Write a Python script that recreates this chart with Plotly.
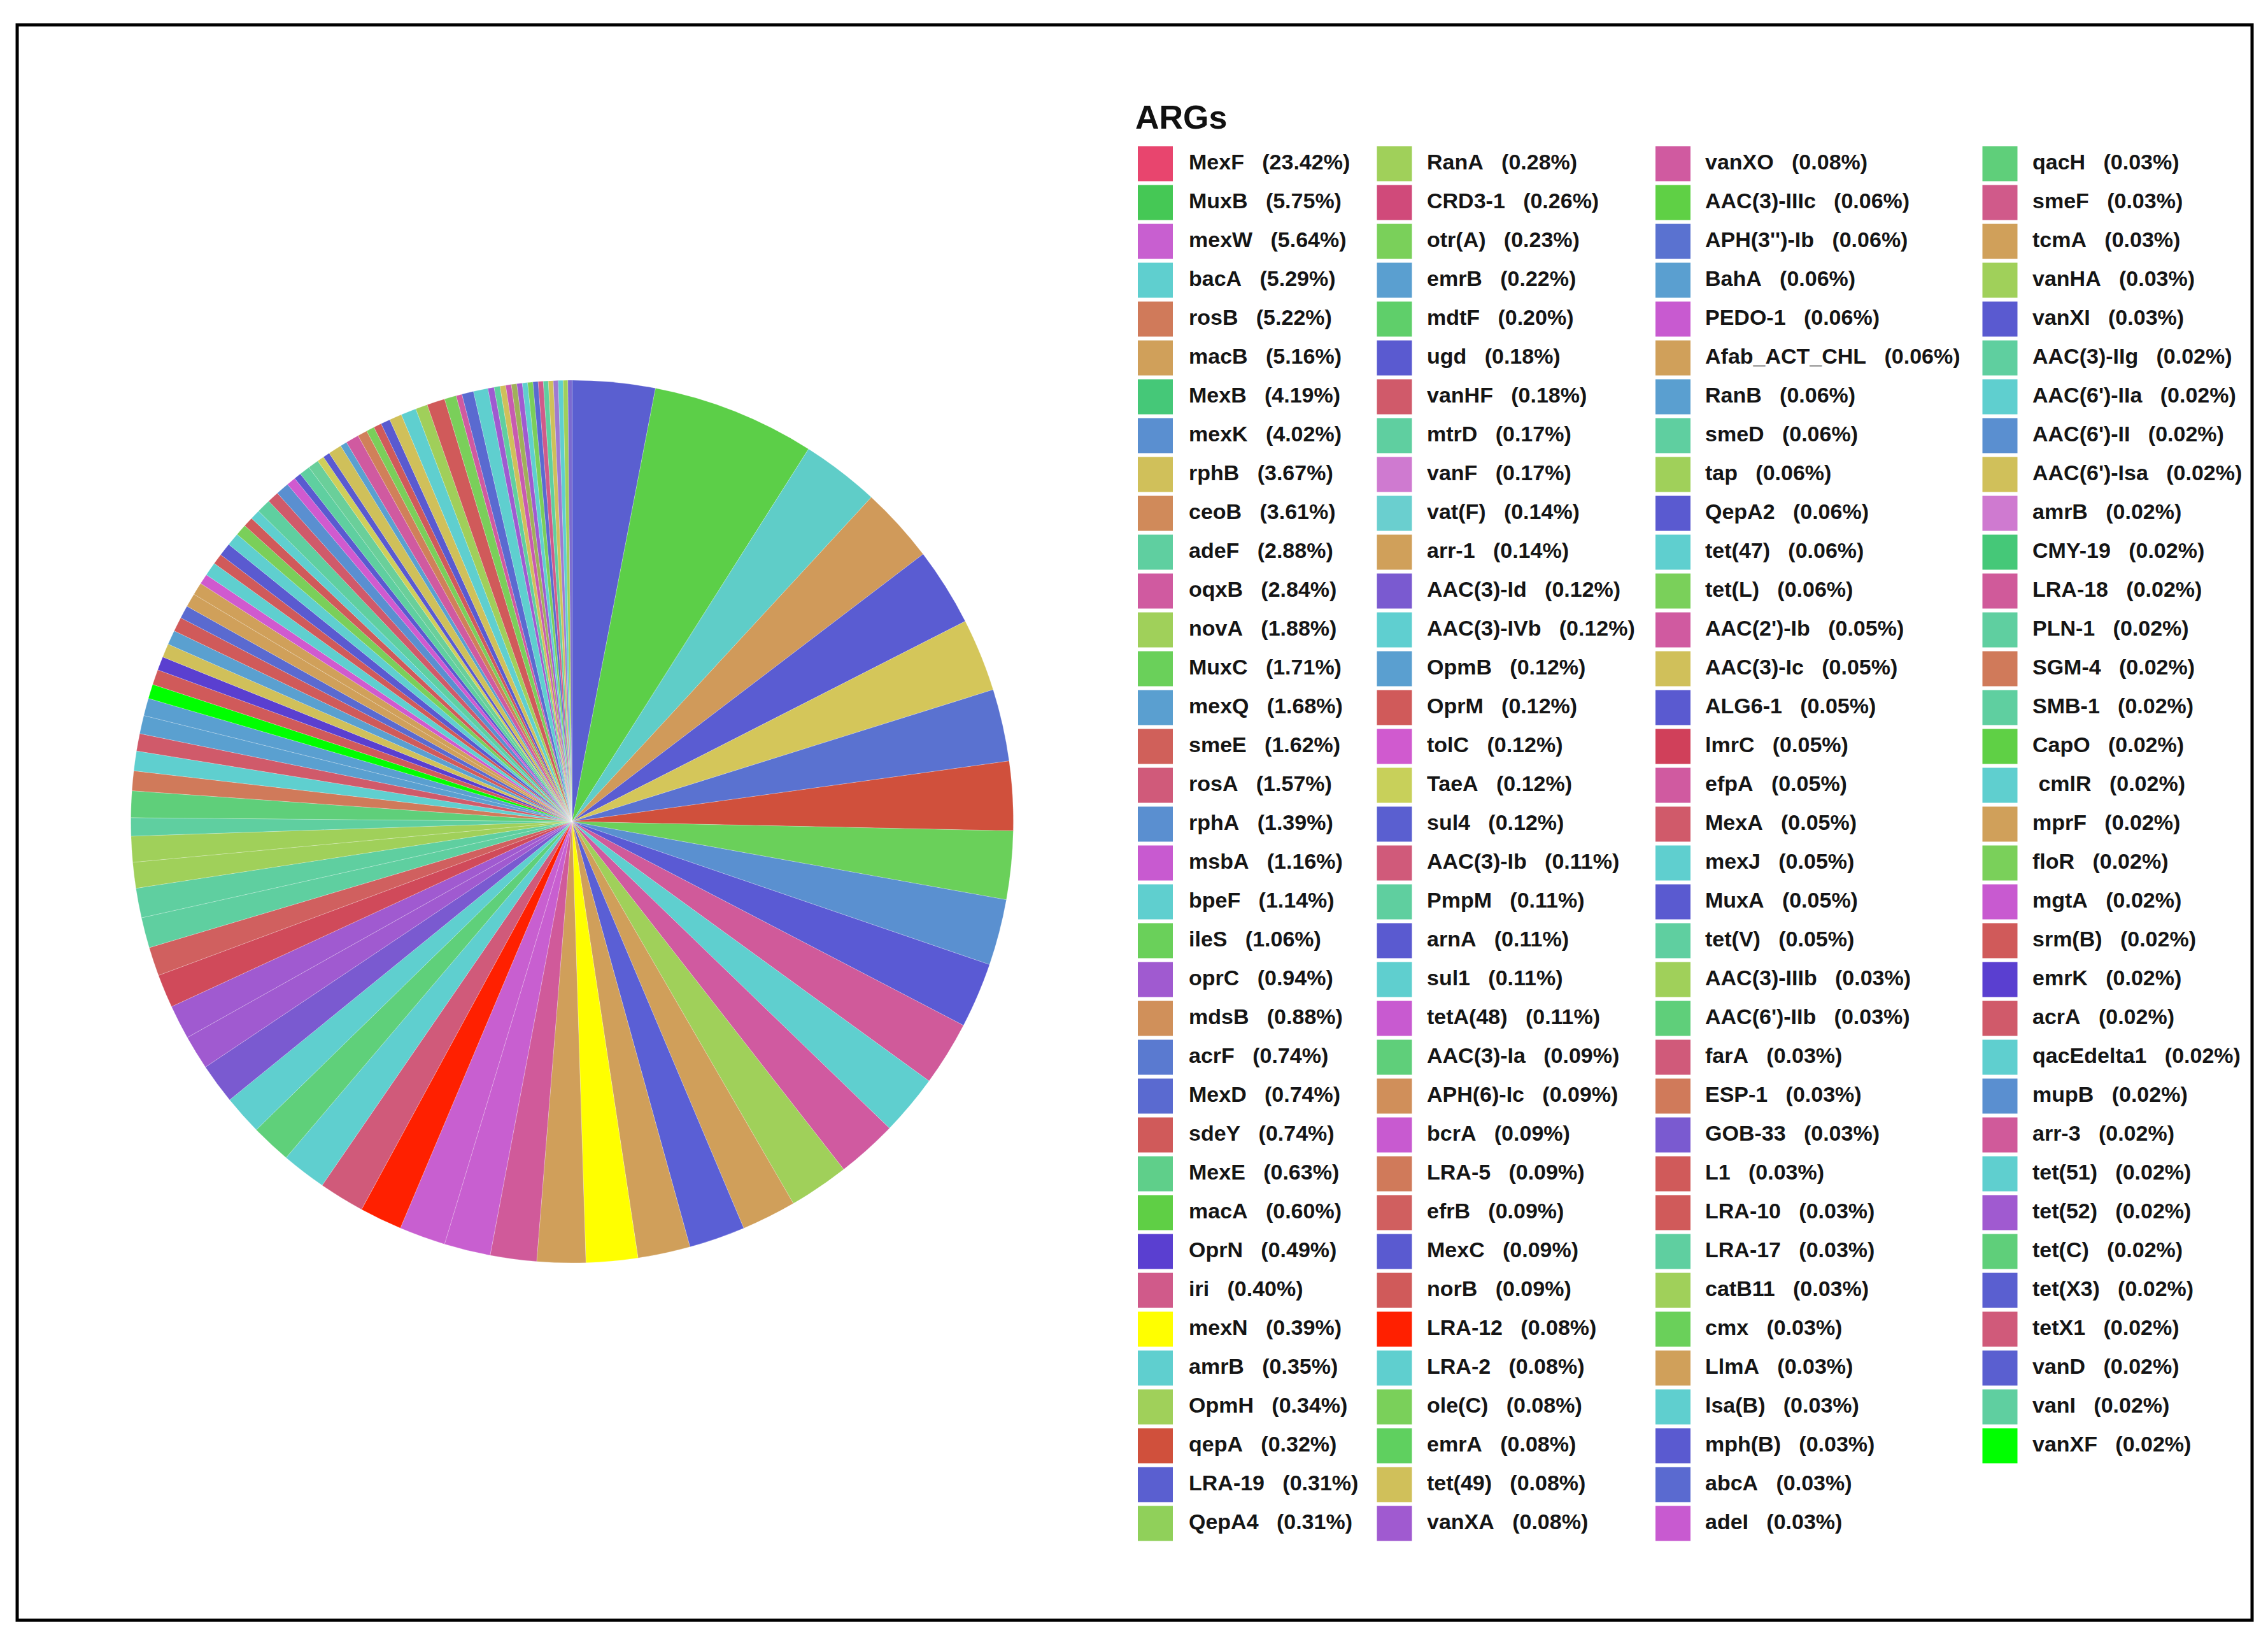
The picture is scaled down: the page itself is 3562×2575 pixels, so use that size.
import plotly.graph_objects as go

# ---------------- legend data (4 columns, column-major) ----------------
names_c1 = ["MexF", "MuxB", "mexW", "bacA", "rosB", "macB", "MexB", "mexK", "rphB", "ceoB",
            "adeF", "oqxB", "novA", "MuxC", "mexQ", "smeE", "rosA", "rphA", "msbA", "bpeF",
            "ileS", "oprC", "mdsB", "acrF", "MexD", "sdeY", "MexE", "macA", "OprN", "iri",
            "mexN", "amrB", "OpmH", "qepA", "LRA-19", "QepA4"]
pct_c1 = [23.42, 5.75, 5.64, 5.29, 5.22, 5.16, 4.19, 4.02, 3.67, 3.61,
          2.88, 2.84, 1.88, 1.71, 1.68, 1.62, 1.57, 1.39, 1.16, 1.14,
          1.06, 0.94, 0.88, 0.74, 0.74, 0.74, 0.63, 0.60, 0.49, 0.40,
          0.39, 0.35, 0.34, 0.32, 0.31, 0.31]
colors_c1 = ["#e8456e", "#45c855", "#c85fd0", "#5fcfcf", "#d07a5a", "#d0a05a", "#45c878", "#5a8fd0", "#d0c05a", "#d08a5a",
             "#5fcfa0", "#d05aa0", "#a0d05a", "#6ad05a", "#5a9fd0", "#d0605a", "#d05a7a", "#5a8fd0", "#c85ad0", "#5fcfcf",
             "#6ad05a", "#a05ad0", "#d0905a", "#5a7ad0", "#5a6ad0", "#d05a5a", "#5fcf8a", "#5fcf45", "#5a3fd0", "#d05a8a",
             "#ffff00", "#5fcfcf", "#a0d05a", "#d0503c", "#5a5fd0", "#90d05a"]

names_c2 = ["RanA", "CRD3-1", "otr(A)", "emrB", "mdtF", "ugd", "vanHF", "mtrD", "vanF", "vat(F)",
            "arr-1", "AAC(3)-Id", "AAC(3)-IVb", "OpmB", "OprM", "tolC", "TaeA", "sul4", "AAC(3)-Ib", "PmpM",
            "arnA", "sul1", "tetA(48)", "AAC(3)-Ia", "APH(6)-Ic", "bcrA", "LRA-5", "efrB", "MexC", "norB",
            "LRA-12", "LRA-2", "ole(C)", "emrA", "tet(49)", "vanXA"]
pct_c2 = [0.28, 0.26, 0.23, 0.22, 0.20, 0.18, 0.18, 0.17, 0.17, 0.14,
          0.14, 0.12, 0.12, 0.12, 0.12, 0.12, 0.12, 0.12, 0.11, 0.11,
          0.11, 0.11, 0.11, 0.09, 0.09, 0.09, 0.09, 0.09, 0.09, 0.09,
          0.08, 0.08, 0.08, 0.08, 0.08, 0.08]
colors_c2 = ["#a0d05a", "#d04a7a", "#7ad05a", "#5a9fd0", "#5fcf6a", "#5a5ad0", "#d05a6a", "#5fcfa0", "#cf7ad0", "#6acfcf",
             "#d0a05a", "#7a5ad0", "#5fcfd0", "#5a9fd0", "#d05a5a", "#d05acf", "#c8d05a", "#5a5fd0", "#d05a7a", "#5fcf9f",
             "#5a5ad0", "#5fcfcf", "#c85ad0", "#5fcf7a", "#d08f5a", "#c85ad0", "#d07a5a", "#d05f5f", "#5a5ad0", "#d05a5a",
             "#ff2000", "#5fcfcf", "#7ad05a", "#5fd05f", "#d0c05a", "#a05ad0"]

names_c3 = ["vanXO", "AAC(3)-IIIc", "APH(3'')-Ib", "BahA", "PEDO-1", "Afab_ACT_CHL", "RanB", "smeD", "tap", "QepA2",
            "tet(47)", "tet(L)", "AAC(2')-Ib", "AAC(3)-Ic", "ALG6-1", "lmrC", "efpA", "MexA", "mexJ", "MuxA",
            "tet(V)", "AAC(3)-IIIb", "AAC(6')-IIb", "farA", "ESP-1", "GOB-33", "L1", "LRA-10", "LRA-17", "catB11",
            "cmx", "LlmA", "lsa(B)", "mph(B)", "abcA", "adeI"]
pct_c3 = [0.08, 0.06, 0.06, 0.06, 0.06, 0.06, 0.06, 0.06, 0.06, 0.06,
          0.06, 0.06, 0.05, 0.05, 0.05, 0.05, 0.05, 0.05, 0.05, 0.05,
          0.05, 0.03, 0.03, 0.03, 0.03, 0.03, 0.03, 0.03, 0.03, 0.03,
          0.03, 0.03, 0.03, 0.03, 0.03, 0.03]
colors_c3 = ["#d05aa0", "#5fd045", "#5a72d0", "#5a9fd0", "#c85ad0", "#d0a05a", "#5a9fd0", "#5fcfa0", "#a0d05a", "#5a5ad0",
             "#5fcfcf", "#7ad05a", "#d05aa0", "#d0c05a", "#5a5ad0", "#d0405a", "#d05aa0", "#d05a6a", "#5fcfcf", "#5a5ad0",
             "#5fcfa0", "#a0d05a", "#5fcf7a", "#d05a7a", "#d07a5a", "#7a5ad0", "#d05a5a", "#d05a5a", "#5fcfa0", "#a0d05a",
             "#6ad05a", "#d0a05a", "#5fcfcf", "#5a5ad0", "#5a6ad0", "#c85ad0"]

names_c4 = ["qacH", "smeF", "tcmA", "vanHA", "vanXI", "AAC(3)-IIg", "AAC(6')-IIa", "AAC(6')-II", "AAC(6')-Isa", "amrB",
            "CMY-19", "LRA-18", "PLN-1", "SGM-4", "SMB-1", "CapO", "\u00a0cmlR", "mprF", "floR", "mgtA",
            "srm(B)", "emrK", "acrA", "qacEdelta1", "mupB", "arr-3", "tet(51)", "tet(52)", "tet(C)", "tet(X3)",
            "tetX1", "vanD", "vanI", "vanXF"]
pct_c4 = [0.03, 0.03, 0.03, 0.03, 0.03, 0.02, 0.02, 0.02, 0.02, 0.02,
          0.02, 0.02, 0.02, 0.02, 0.02, 0.02, 0.02, 0.02, 0.02, 0.02,
          0.02, 0.02, 0.02, 0.02, 0.02, 0.02, 0.02, 0.02, 0.02, 0.02,
          0.02, 0.02, 0.02, 0.02]
colors_c4 = ["#5fcf7a", "#d05a8a", "#d0a05a", "#a0d05a", "#5a5ad0", "#5fcf9f", "#5fcfcf", "#5a8fd0", "#d0c05a", "#cf7ad0",
             "#45c878", "#d05a9a", "#5fcfa0", "#d07a5a", "#5fcfa0", "#5fd045", "#5fcfcf", "#d0a05a", "#7ad05a", "#c85ad0",
             "#d05a5a", "#5a3fd0", "#d05a6a", "#5fcfcf", "#5a8fd0", "#d05a9a", "#5fcfcf", "#a05ad0", "#5fcf7a", "#5a5fd0",
             "#d05a7a", "#5a5fd0", "#5fcfa0", "#00ff00"]

# ---------------- pie data (slice shares, clockwise from 12 o'clock) ----------------
pie_share = [10.9, 21.5, 10.3, 10.0, 10.3, 9.6, 9.5, 9.1, 9.0, 8.7,
             8.6, 8.5, 8.0, 8.0, 7.9, 7.2, 7.4, 6.9, 6.8, 6.4,
             6.1, 6.1, 6.1, 5.6, 6.0, 5.9, 5.3, 5.2, 5.3, 4.5,
             4.5, 4.4, 3.8, 4.0, 3.9, 3.4, 3.4, 2.4, 3.5, 2.6,
             2.6, 2.3, 2.4, 2.3, 1.9, 2.0, 1.8, 1.8, 1.9, 1.9,
             1.7, 1.8, 1.65, 1.35, 1.8, 1.4, 1.7, 1.7, 1.5, 1.3,
             1.3, 1.85, 1.53, 1.74, 1.21, 0.95, 1.4, 1.41, 0.9, 0.9,
             1.77, 0.88, 1.73, 1.28, 1.05, 1.04, 1.24, 1.64, 2.02, 1.58,
             2.37, 1.56, 0.78, 1.54, 1.91, 0.82, 0.78, 0.75, 0.74, 0.72,
             0.71, 0.70, 0.69, 0.68, 0.67, 0.66, 0.65, 0.64, 0.63, 0.62,
             0.55]
pie_colors = ["#5a5fd0", "#5ccf48", "#5fcdc8", "#d09a5a", "#5a5cd2", "#d4c65a", "#5a72d0", "#d0503c", "#6ad05a", "#5a90d0",
              "#5a5ad4", "#d05a9a", "#5fcfcf", "#d05aa0", "#a0d05a", "#d09f5a", "#5a5fd5", "#d09f5a", "#ffff00", "#d09f5a",
              "#d05a9a", "#c85fd0", "#c85fd0", "#ff2000", "#d05a7a", "#5fcfcf", "#5fd07a", "#5fcfcf", "#7a5ad0", "#a05ad0",
              "#a05ad0", "#d04a5a", "#d0605f", "#5fcfa0", "#5fcfa0", "#a0d05a", "#a0d05a", "#5fcfa0", "#5fcf7a", "#d07a5a",
              "#5fcfcf", "#d05a6a", "#5aa0d0", "#5a9fd0", "#00ff00", "#d05a5a", "#5a3fd0", "#d0c05a", "#5aa0d0", "#d05a5a",
              "#5a6ad0", "#d0a05a", "#d0a05a", "#d05acf", "#5fcfcf", "#d05a5a", "#5a5ad0", "#5fcfcf", "#7acf5a", "#d05a5a",
              "#5fcfcf", "#5fcfa0", "#d05a6a", "#5a8fd0", "#d05acf", "#5a5ad0", "#5fcfa0", "#6acf9a", "#cfcf5a", "#5a5ad0",
              "#cfc05a", "#5aa0d0", "#d05aa0", "#d0805a", "#7acf5a", "#d05a5a", "#5a5ad0", "#d0c05a", "#5fcfcf", "#a0cf5a",
              "#d05a5a", "#7acf5a", "#d05aa0", "#5a6ad0", "#5fcfcf", "#9f5ad0", "#5fcfa0", "#d0c05a", "#c85ab0", "#a0b05a",
              "#a05ad0", "#5fcfcf", "#7acf5a", "#5a6ad0", "#d05a8a", "#5fcfa0", "#cfc05a", "#9f7ad0", "#5fcfcf", "#a0cf5a",
              "#7a6ad0"]

# ---------------- layout constants (pixels of the 3562x2575 page) ----------------
W, H = 3562, 2575
pie_cx, pie_cy, pie_r = 898.5, 1290, 693
col_square_x = [1814.5, 2190, 2627.5, 3141]
col_text_x = [1867, 2241, 2678, 3192]
row_y0, row_pitch = 257, 61.0
square_size = 55
FONT = "Liberation Sans, Arial, Helvetica, sans-serif"

columns = [(names_c1, pct_c1, colors_c1), (names_c2, pct_c2, colors_c2),
           (names_c3, pct_c3, colors_c3), (names_c4, pct_c4, colors_c4)]
all_names = names_c1 + names_c2 + names_c3 + names_c4
pie_labels = all_names[:len(pie_share)]

sq_x, sq_y, sq_c, tx_x, tx_y, tx_t = [], [], [], [], [], []
for c, (nm, pc, cl) in enumerate(columns):
    for r, (n, p, k) in enumerate(zip(nm, pc, cl)):
        y = row_y0 + r * row_pitch
        sq_x.append(col_square_x[c]); sq_y.append(y); sq_c.append(k)
        tx_x.append(col_text_x[c]); tx_y.append(y)
        tx_t.append("<b>%s\u00a0\u00a0\u00a0(%.2f%%)</b>" % (n, p))

fig = go.Figure()
fig.add_trace(go.Pie(
    labels=pie_labels, values=pie_share, sort=False, direction="clockwise", rotation=0,
    marker=dict(colors=pie_colors, line=dict(color="rgba(255,255,255,0.4)", width=0.6)),
    textinfo="none", hoverinfo="label", showlegend=False,
    domain=dict(x=[(pie_cx - pie_r) / W, (pie_cx + pie_r) / W],
                y=[(H - pie_cy - pie_r) / H, (H - pie_cy + pie_r) / H]),
))
fig.add_trace(go.Scatter(
    x=sq_x, y=sq_y, mode="markers", hoverinfo="skip", showlegend=False,
    marker=dict(symbol="square", size=square_size, color=sq_c, line=dict(width=0)),
))
fig.add_trace(go.Scatter(
    x=tx_x, y=tx_y, mode="text", text=tx_t, textposition="middle right",
    textfont=dict(family=FONT, size=34, color="#151515"), hoverinfo="skip", showlegend=False,
))
fig.update_layout(
    width=W, height=H, margin=dict(l=0, r=0, t=0, b=0),
    paper_bgcolor="white", plot_bgcolor="white",
    xaxis=dict(range=[0, W], visible=False, fixedrange=True),
    yaxis=dict(range=[H, 0], visible=False, fixedrange=True),
    annotations=[dict(x=1781, y=184, xref="x", yref="y", text="<b>ARGs</b>", showarrow=False,
                      xanchor="left", yanchor="middle", font=dict(family=FONT, size=52, color="#111111"))],
    shapes=[dict(type="rect", xref="paper", yref="paper", x0=27 / W, x1=3537 / W,
                 y0=(H - 2544) / H, y1=(H - 39) / H, line=dict(color="black", width=5))],
)
fig.write_html("out.html", config={"displayModeBar": False},
               post_script="document.body.style.margin='0';document.body.style.overflow='hidden';")
